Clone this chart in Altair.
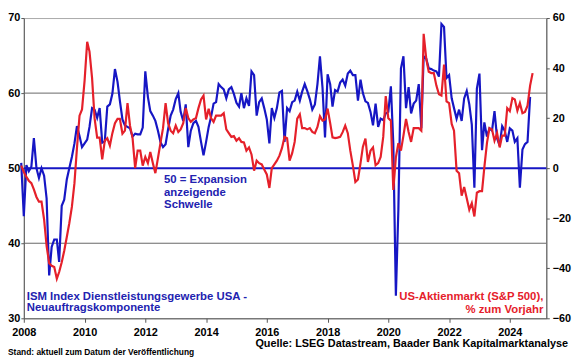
import altair as alt
import pandas as pd

# ISM Services PMI - New Orders (monthly, Dec 2007 .. Sep 2024)
ism_values = [
    50.7,
    43.6, 50.4, 49.6, 50.2, 54.0, 50.0, 48.7, 50.0, 49.0, 46.0, 35.7, 39.5,   # 2008
    40.5, 40.5, 37.5, 45.0, 45.8, 48.5, 50.0, 51.5, 53.3, 55.6, 54.3, 52.8,   # 2009
    53.3, 53.8, 55.5, 58.0, 57.8, 56.7, 58.0, 53.4, 53.6, 58.2, 58.5, 59.9,   # 2010
    63.2, 61.5, 59.0, 56.5, 55.7, 55.5, 55.3, 54.2, 54.6, 54.5, 54.5, 55.4,   # 2011
    62.9, 59.5, 57.6, 57.0, 56.3, 55.0, 53.5, 52.8, 53.2, 55.2, 57.0, 57.8,   # 2012
    59.2, 60.0, 57.5, 56.3, 58.5, 52.8, 55.0, 56.0, 56.3, 55.5, 53.5, 51.7,   # 2013
    53.5, 55.5, 56.8, 58.6, 58.8, 61.2, 60.8, 60.5, 59.3, 60.5, 60.8, 59.9,   # 2014
    58.7, 58.2, 60.0, 58.0, 59.3, 58.3, 62.9, 62.4, 57.0, 58.8, 59.3, 58.0,   # 2015
    56.5, 53.3, 58.0, 56.7, 58.0, 60.1, 60.3, 53.5, 58.0, 57.6, 58.8, 59.0,   # 2016
    60.2, 59.0, 60.2, 61.2, 60.3, 59.2, 57.8, 58.5, 61.2, 64.9, 60.7, 54.1,   # 2017
    62.5, 61.2, 58.2, 60.4, 60.2, 61.4, 61.8, 61.0, 62.6, 63.0, 62.4, 62.4,   # 2018
    59.0, 61.8, 60.0, 58.9, 58.7, 57.5, 55.7, 58.6, 55.5, 56.6, 56.4, 57.3,   # 2019
    57.5, 60.9, 53.3, 33.0, 44.5, 63.3, 64.9, 58.0, 60.8, 57.3, 58.6, 59.0,   # 2020
    61.2, 55.3, 64.9, 64.6, 63.3, 63.2, 63.0, 62.9, 62.2, 69.2, 68.8, 62.0,   # 2021
    62.4, 59.3, 58.0, 56.6, 57.8, 56.3, 59.3, 60.3, 58.5, 55.8, 47.4, 60.6,   # 2022
    62.6, 52.4, 56.1, 54.2, 55.3, 55.0, 57.6, 54.0, 53.0, 55.6, 55.0, 53.5,   # 2023
    55.3, 55.0, 53.5, 54.0, 47.4, 52.5, 53.2, 53.5, 59.5,                     # 2024
]

# S&P 500, % change year over year (monthly, Dec 2007 .. Oct 2024)
spx_values = [
    1.0,
    -1.5, -3.5, -5.0, -6.0, -8.5, -11.5, -13.4, -13.4, -20.5, -31.0, -38.0, -39.0,  # 2008
    -39.5, -44.2, -41.5, -37.6, -33.0, -27.5, -22.0, -15.5, -6.0, 8.0, 21.0, 23.5,  # 2009
    35.0, 50.5, 46.6, 36.0, 20.0, 12.2, 12.2, 3.5, 11.0, 12.0, 9.0, 14.0,           # 2010
    18.0, 19.7, 19.7, 13.8, 15.0, 26.0, 17.0, 12.0, 0.0, 7.0, 7.0, 1.0,             # 2011
    4.5, 2.0, 6.5, 2.0, -2.0, 4.0, 10.0, 16.0, 26.0, 18.0, 15.0, 14.0,              # 2012
    17.0, 14.5, 15.5, 18.0, 24.0, 20.0, 18.5, 19.5, 20.0, 24.0, 27.5, 29.0,         # 2013
    19.5, 23.7, 20.0, 18.5, 21.0, 21.0, 21.0, 22.0, 15.5, 14.0, 12.5, 12.8,         # 2014
    11.0, 12.0, 10.5, 10.3, 7.0, 8.3, 5.5, -1.0, 3.0, 2.0, 1.5, -0.5,               # 2015
    -2.5, -7.9, 0.0, 1.5, 3.0, 5.0, 8.0, 12.5, 12.0, 3.0, 6.0, 10.5,                # 2016
    19.8, 21.5, 16.0, 16.0, 15.5, 16.0, 14.5, 14.0, 16.5, 20.8, 19.0, 19.5,         # 2017
    23.8, 18.0, 12.3, 12.0, 12.2, 12.5, 14.4, 17.0, 14.0, 7.0, 1.0, -5.5,           # 2018
    -4.5, 2.0, 8.5, 11.8, 2.5, 7.0, 8.3, 1.2, 2.0, 4.5, 12.5, 28.8,                 # 2019
    20.0, 19.0, -8.7, 4.3, 10.0, 7.0, 13.0, 19.7, 14.5, 10.5, 16.0, 16.0,           # 2020
    16.0, 15.0, 53.7, 43.8, 38.5, 38.0, 38.0, 33.0, 29.5, 29.0, 41.4, 26.7,         # 2021
    26.0, 17.7, 15.0, -1.0, -2.0, -11.0, -7.5, -12.0, -16.6, -14.0, -19.3, -9.8,    # 2022
    -9.2, -9.2, 0.4, 10.0, 16.0, 15.5, 11.0, 14.0, 8.3, 13.0, 13.0, 24.0,           # 2023
    22.8, 28.0, 27.5, 23.0, 26.0, 22.0, 22.5, 25.0, 33.0, 38.0,                     # 2024
]

left_ticks = [30, 40, 50, 60, 70]
left_grid = [40, 60]
threshold = [50]
right_ticks = [-60, -40, -20, 0, 20, 40, 60]
year_ticks = [2008, 2010, 2012, 2014, 2016, 2018, 2020, 2022, 2024]

df_ism = pd.DataFrame({
    "date": pd.date_range("2007-12-01", periods=len(ism_values), freq="MS"),
    "value": ism_values,
})
df_spx = pd.DataFrame({
    "date": pd.date_range("2007-12-01", periods=len(spx_values), freq="MS"),
    "value": spx_values,
})

BLUE = "#1616c4"
BLUE_TXT = "#2222b0"
RED = "#e5202a"
FONT = "Liberation Sans"
AX = "#555555"

x_enc = alt.X(
    "date:T",
    scale=alt.Scale(domain=[alt.DateTime(year=2008, month=1, date=1),
                            alt.DateTime(year=2025, month=3, date=15)]),
    axis=alt.Axis(
        values=[alt.DateTime(year=y, month=1, date=1) for y in year_ticks],
        format="%Y", title=None, grid=False, labelFont=FONT,
        labelFontWeight="bold", labelFontSize=11, labelColor="#000",
        domainColor=AX, tickColor=AX, tickSize=4, labelPadding=4,
        labelFlush=False,
    ),
)

left_axis = alt.Axis(
    values=left_ticks, title=None, grid=False,
    domainColor=AX, tickColor=AX, tickSize=3, labelPadding=1,
    labelFont=FONT, labelFontWeight="bold", labelFontSize=11,
    labelColor="#000",
)
right_axis = alt.Axis(
    orient="right", values=right_ticks, title=None, grid=False,
    domainColor=AX, tickColor=AX, tickSize=3, labelPadding=3,
    labelFont=FONT, labelFontWeight="bold", labelFontSize=11,
    labelColor="#000",
)
left_scale = alt.Scale(domain=[30, 70], nice=False, zero=False)

grid = alt.Chart(pd.DataFrame({"value": left_grid})).mark_rule(
    color="#666666", strokeWidth=1
).encode(y=alt.Y("value:Q", scale=left_scale, axis=left_axis))

rule50 = alt.Chart(pd.DataFrame({"value": threshold})).mark_rule(
    color=BLUE, strokeWidth=2
).encode(y=alt.Y("value:Q", scale=left_scale, axis=left_axis))

blue = alt.Chart(df_ism).mark_line(color=BLUE, strokeWidth=2.2).encode(
    x=x_enc,
    y=alt.Y("value:Q", scale=left_scale, axis=left_axis),
)

red = alt.Chart(df_spx).mark_line(color=RED, strokeWidth=2.2).encode(
    x=x_enc,
    y=alt.Y("value:Q", scale=alt.Scale(domain=[-60, 60], nice=False), axis=right_axis),
)


def txt(s, x, y, color, size, align="left"):
    return alt.Chart(pd.DataFrame({"t": [s]})).mark_text(
        align=align, baseline="middle", font=FONT, fontWeight="bold",
        fontSize=size, color=color,
    ).encode(text="t:N", x=alt.value(x), y=alt.value(y))


texts = [
    txt("50 = Expansion", 142, 164, BLUE_TXT, 11.5),
    txt("anzeigende", 142, 177, BLUE_TXT, 11.5),
    txt("Schwelle", 142, 189, BLUE_TXT, 11.5),
    txt("ISM Index Dienstleistungsgewerbe USA -", 3, 282, BLUE_TXT, 11.5),
    txt("Neuauftragskomponente", 3, 294, BLUE_TXT, 11.5),
    txt("US-Aktienmarkt (S&P 500),", 526, 282, RED, 11.5, "right"),
    txt("% zum Vorjahr", 526, 296, RED, 11.5, "right"),
    txt("Quelle: LSEG Datastream, Baader Bank Kapitalmarktanalyse", 551, 330, "#000", 11, "right"),
    txt("Stand: aktuell zum Datum der Veröffentlichung", -16, 338, "#000", 8.5),
]

chart = alt.layer(alt.layer(grid, rule50, blue), red, *texts).resolve_scale(
    y="independent"
).properties(
    width=529, height=304,
    padding={"left": 16, "top": 8, "right": 26, "bottom": 37},
    autosize=alt.AutoSizeParams(type="none"),
    background="white",
).configure_view(stroke="#aaaaaa")

chart.save("out.html", embed_options={"renderer": "svg", "actions": False})
